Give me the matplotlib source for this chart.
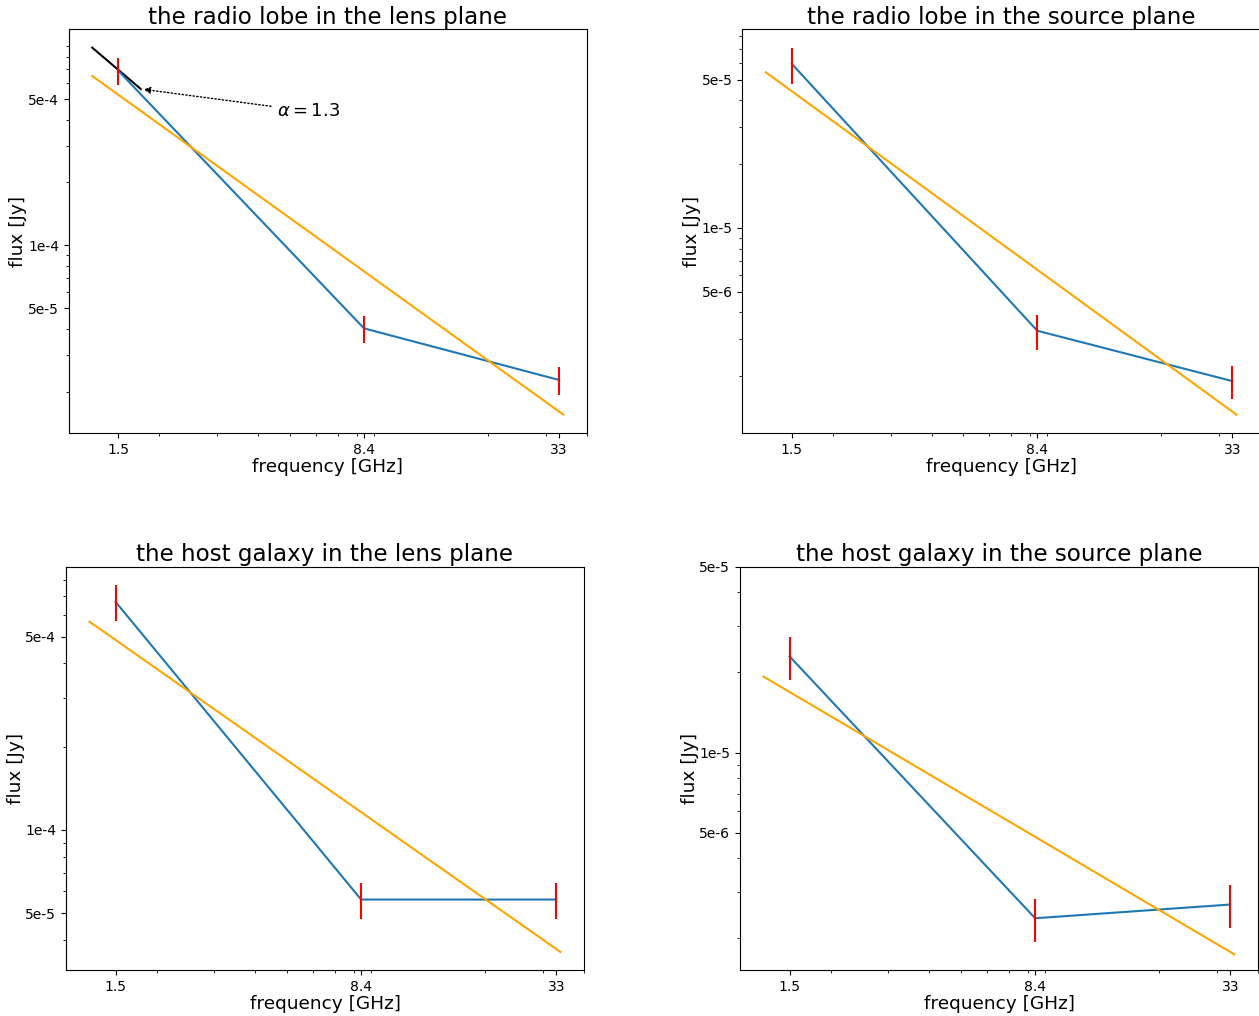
import numpy as np
import matplotlib
matplotlib.use('Agg')
import matplotlib.pyplot as plt
from matplotlib.ticker import NullFormatter

# observing frequencies [GHz]
freq = [1.5, 8.4, 33]
freq_labels = ['1.5', '8.4', '33']

# measured fluxes [Jy] and errors
lobe_lens_flux = [6.85e-4, 4.01e-5, 2.27e-5]
lobe_lens_err = [1.0e-4, 5.9e-6, 3.4e-6]
lobe_src_flux = [5.93e-5, 3.28e-6, 1.90e-6]
lobe_src_err = [1.14e-5, 6.2e-7, 3.4e-7]
host_lens_flux = [6.68e-4, 5.60e-5, 5.60e-5]
host_lens_err = [1.0e-4, 8.2e-6, 8.2e-6]
host_src_flux = [2.30e-5, 2.38e-6, 2.68e-6]
host_src_err = [4.3e-6, 4.4e-7, 5.0e-7]

# power-law fits (end points)
fit_freq = [1.25, 34]
lobe_lens_fit = [6.46e-4, 1.55e-5]
lobe_src_fit = [5.41e-5, 1.32e-6]
host_lens_fit = [5.66e-4, 3.62e-5]
host_src_fit = [1.93e-5, 1.74e-6]

# local slope marker in the first panel
slope_freq = [1.25, 1.756]
slope_flux = [8.83e-4, 5.60e-4]

lens_ticks = [5e-4, 1e-4, 5e-5]
lens_ticklabels = ['5e-4', '1e-4', '5e-5']
src_ticks = [5e-5, 1e-5, 5e-6]
src_ticklabels = ['5e-5', '1e-5', '5e-6']

W, H = 1259, 1016
fig = plt.figure(figsize=(W/100, H/100), dpi=100)


def make_ax(left, right, top, bottom):
    return fig.add_axes([left/W, 1-bottom/H, (right-left)/W, (bottom-top)/H])


def plot_sed(ax, flux, err, fit, title, yticks, yticklabels):
    ax.plot(freq, flux, color='#1f77b4', lw=1.5)
    ax.errorbar(freq, flux, yerr=err, fmt='none', ecolor='red', elinewidth=1.5)
    ax.plot(fit_freq, fit, color='orange', lw=1.5)
    ax.set_xscale('log')
    ax.set_yscale('log')
    ax.set_xticks(freq)
    ax.set_xticklabels(freq_labels)
    ax.xaxis.set_minor_formatter(NullFormatter())
    ax.set_yticks(yticks)
    ax.set_yticklabels(yticklabels)
    ax.yaxis.set_minor_formatter(NullFormatter())
    ax.tick_params(labelsize=10)
    ax.set_xlabel('frequency [GHz]', fontsize=13.3, labelpad=1)
    ax.set_ylabel('flux [Jy]', fontsize=13.3)
    ax.yaxis.set_label_coords(-0.08, 0.5)
    ax.set_title(title, fontsize=16.6, pad=4)


ax1 = make_ax(68.7, 587, 29.3, 433)
ax1.plot(slope_freq, slope_flux, color='black', lw=1.5)
plot_sed(ax1, lobe_lens_flux, lobe_lens_err, lobe_lens_fit,
         'the radio lobe in the lens plane', lens_ticks, lens_ticklabels)
ax1.annotate(r'$\alpha = 1.3$', xy=(slope_freq[1], slope_flux[1]),
             xytext=(4.55, 4.15e-4), fontsize=13,
             arrowprops=dict(arrowstyle='-|>', color='black', ls=':', lw=1,
                             mutation_scale=10))

ax2 = make_ax(742.3, 1260, 29.3, 433)
plot_sed(ax2, lobe_src_flux, lobe_src_err, lobe_src_fit,
         'the radio lobe in the source plane', src_ticks, src_ticklabels)

ax3 = make_ax(66, 584, 566.7, 970.3)
plot_sed(ax3, host_lens_flux, host_lens_err, host_lens_fit,
         'the host galaxy in the lens plane', lens_ticks, lens_ticklabels)

ax4 = make_ax(740, 1258, 566.7, 970.3)
plot_sed(ax4, host_src_flux, host_src_err, host_src_fit,
         'the host galaxy in the source plane', src_ticks, src_ticklabels)

fig.savefig('out.png', dpi=100)
